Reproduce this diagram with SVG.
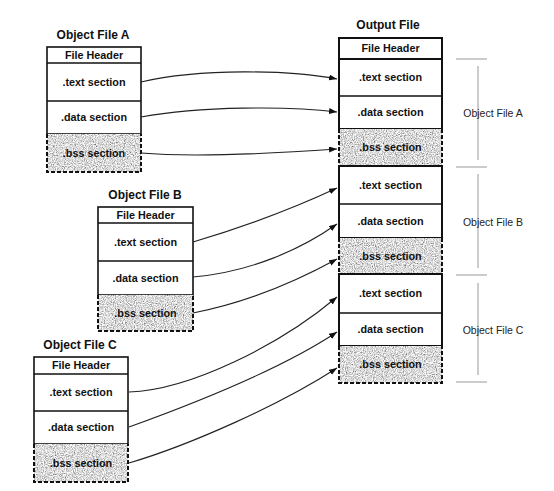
<svg xmlns="http://www.w3.org/2000/svg" width="554" height="491" viewBox="0 0 554 491">
<style>
.t{font-family:"Liberation Sans",Arial,sans-serif;font-weight:bold;font-size:10.8px;text-anchor:middle;fill:#111}
.title{font-family:"Liberation Sans",Arial,sans-serif;font-weight:bold;font-size:12px;text-anchor:middle;fill:#111}
.lbl{font-family:"Liberation Sans",Arial,sans-serif;font-size:10.5px;text-anchor:middle;fill:#222}
.box{fill:#fff;stroke:#111;stroke-width:1.6}
.obox{fill:#fff;stroke:#111;stroke-width:2}
.sep{stroke:#111;stroke-width:1.4;fill:none}
.bss{fill:#bbb;filter:url(#noise)}
.dash{fill:none;stroke:#111;stroke-width:2;stroke-dasharray:4 2}
.br{stroke:#999;stroke-width:1;fill:none}
.arr{fill:none;stroke:#222;stroke-width:1.1;marker-end:url(#ah)}
</style>
<defs>
<filter id="noise" x="0" y="0" width="100%" height="100%">
<feTurbulence type="fractalNoise" baseFrequency="0.9" numOctaves="2" seed="4" result="t"/>
<feColorMatrix in="t" type="matrix" values="1 0 0 0 0 1 0 0 0 0 1 0 0 0 0 0 0 0 0 1" result="g"/>
<feComponentTransfer in="g" result="c">
<feFuncR type="linear" slope="1.6" intercept="-0.1"/>
<feFuncG type="linear" slope="1.6" intercept="-0.1"/>
<feFuncB type="linear" slope="1.6" intercept="-0.1"/>
<feFuncA type="linear" slope="0" intercept="1"/>
</feComponentTransfer>
<feComposite in="c" in2="SourceAlpha" operator="in"/>
</filter>
<marker id="ah" markerUnits="userSpaceOnUse" markerWidth="9" markerHeight="7" refX="8" refY="3" orient="auto">
<path d="M0,0 L8,3 L0,6 z" fill="#111"/>
</marker>
</defs>

<g id="objA">
<text class="title" x="93" y="39">Object File A</text>
<rect class="box" x="47" y="47" width="94" height="87"/>
<line class="sep" x1="47" y1="63" x2="141" y2="63"/>
<line class="sep" x1="47" y1="101" x2="141" y2="101"/>
<rect class="bss" x="47" y="134" width="94" height="38"/>
<path class="dash" d="M47,134 V172 H141 V134"/>
<text class="t" x="94" y="59">File Header</text>
<text class="t" x="94" y="86">.text section</text>
<text class="t" x="94" y="121">.data section</text>
<text class="t" x="94" y="157">.bss section</text>
</g>

<g id="objB">
<text class="title" x="145" y="199">Object File B</text>
<rect class="box" x="98" y="207" width="95" height="88"/>
<line class="sep" x1="98" y1="223" x2="193" y2="223"/>
<line class="sep" x1="98" y1="261" x2="193" y2="261"/>
<rect class="bss" x="98" y="295" width="95" height="36"/>
<path class="dash" d="M98,295 V331 H193 V295"/>
<text class="t" x="145.5" y="219">File Header</text>
<text class="t" x="145.5" y="246">.text section</text>
<text class="t" x="145.5" y="282">.data section</text>
<text class="t" x="145.5" y="317">.bss section</text>
</g>

<g id="objC">
<text class="title" x="80" y="349">Object File C</text>
<rect class="box" x="34" y="357" width="94" height="87"/>
<line class="sep" x1="34" y1="374" x2="128" y2="374"/>
<line class="sep" x1="34" y1="411" x2="128" y2="411"/>
<rect class="bss" x="34" y="444" width="94" height="38"/>
<path class="dash" d="M34,444 V482 H128 V444"/>
<text class="t" x="81" y="369">File Header</text>
<text class="t" x="81" y="396">.text section</text>
<text class="t" x="81" y="431">.data section</text>
<text class="t" x="81" y="467">.bss section</text>
</g>

<g id="output">
<text class="title" x="388" y="29">Output File</text>
<rect class="obox" x="339" y="38" width="103" height="21"/>
<rect class="obox" x="339" y="59" width="103" height="70"/>
<line class="sep" x1="339" y1="96" x2="442" y2="96"/>
<rect class="bss" x="339" y="129" width="103" height="37"/>
<path class="dash" d="M339,129 V166 M442,129 V166"/>
<rect class="obox" x="339" y="166" width="103" height="72"/>
<line class="sep" x1="339" y1="204" x2="442" y2="204"/>
<rect class="bss" x="339" y="238" width="103" height="36"/>
<path class="dash" d="M339,238 V274 M442,238 V274"/>
<rect class="obox" x="339" y="274" width="103" height="72"/>
<line class="sep" x1="339" y1="313" x2="442" y2="313"/>
<rect class="bss" x="339" y="346" width="103" height="37"/>
<path class="dash" d="M339,346 V383 H442 V346"/>
<text class="t" x="390.5" y="52">File Header</text>
<text class="t" x="390.5" y="81">.text section</text>
<text class="t" x="390.5" y="116">.data section</text>
<text class="t" x="390.5" y="151">.bss section</text>
<text class="t" x="390.5" y="189">.text section</text>
<text class="t" x="390.5" y="225">.data section</text>
<text class="t" x="390.5" y="260">.bss section</text>
<text class="t" x="390.5" y="297">.text section</text>
<text class="t" x="390.5" y="333">.data section</text>
<text class="t" x="390.5" y="368">.bss section</text>
</g>

<g id="brackets">
<line class="br" x1="456" y1="59" x2="487" y2="59"/>
<line class="br" x1="456" y1="167" x2="487" y2="167"/>
<line class="br" x1="456" y1="275" x2="487" y2="275"/>
<line class="br" x1="456" y1="382" x2="487" y2="382"/>
<line class="br" x1="478" y1="66" x2="478" y2="160"/>
<line class="br" x1="478" y1="174" x2="478" y2="268"/>
<line class="br" x1="478" y1="283" x2="478" y2="375"/>
<text class="lbl" x="493" y="117">Object File A</text>
<text class="lbl" x="493" y="226">Object File B</text>
<text class="lbl" x="493" y="334">Object File C</text>
</g>

<g id="connectors">
<path class="arr" d="M141,82 C200,68 290,70 337,79"/>
<path class="arr" d="M141,117 C200,106 290,106 337,112"/>
<path class="arr" d="M141,153 C200,158 280,153 337,149"/>
<path class="arr" d="M193,242 C240,228 290,210 337,188"/>
<path class="arr" d="M193,277 C250,272 300,250 337,224"/>
<path class="arr" d="M193,313 C245,303 295,282 337,259"/>
<path class="arr" d="M129,392 C190,390 280,345 337,297"/>
<path class="arr" d="M129,427 C190,405 280,370 337,332"/>
<path class="arr" d="M129,463 C190,445 280,405 337,368"/>
</g>
</svg>
